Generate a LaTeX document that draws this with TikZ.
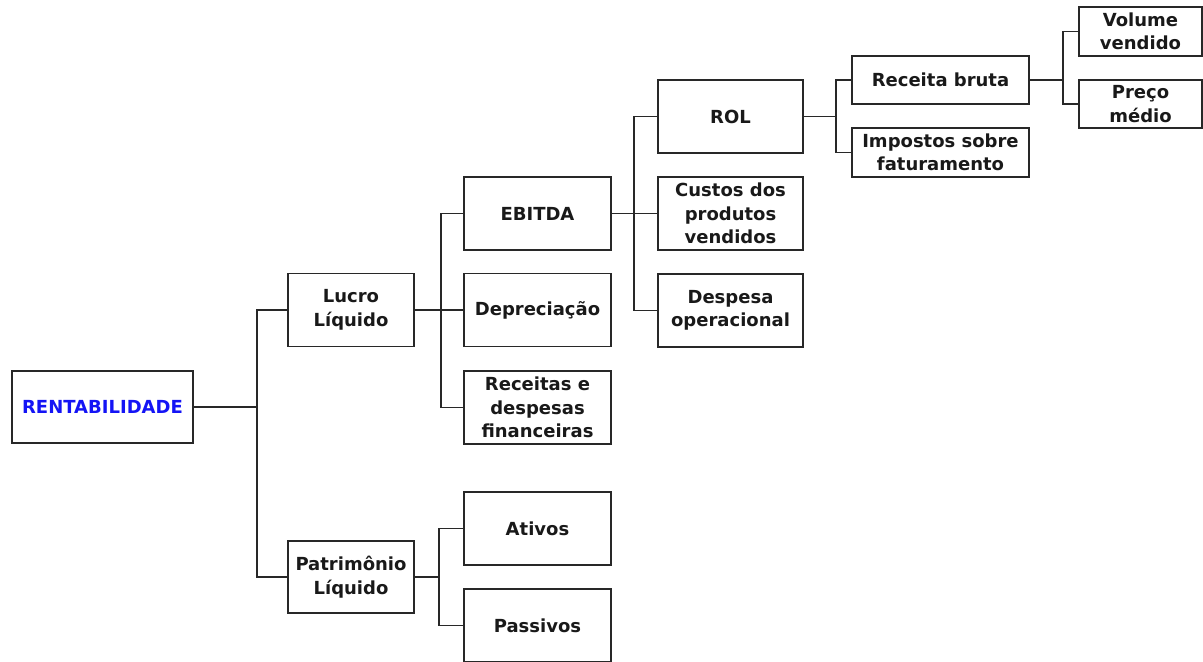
\documentclass[tikz,border=0pt]{standalone}
\usepackage{fontspec}
\setmainfont{DejaVu Sans}
\definecolor{rblue}{RGB}{20,20,245}
\definecolor{ink}{RGB}{40,40,40}
\tikzset{
  box/.style={draw=ink, line width=1.1pt, rectangle, inner sep=0pt, align=center,
    font=\fontsize{13.5}{17.6}\selectfont\bfseries, text=black!90},
  conn/.style={draw=ink, line width=1.1pt}
}
\newcommand{\bx}[6]{\node[box, minimum width=#4*0.75pt, minimum height=#5*0.75pt] (#1) at (#2,#3) {#6};}
\begin{document}
\begin{tikzpicture}[x=0.75pt,y=-0.75pt]
\useasboundingbox (0,0) rectangle (1203,661);
\bx{rent}{102.5}{407}{181}{72}{\textcolor{rblue}{RENTABILIDADE}}
\bx{lucro}{351}{310}{126}{73}{Lucro\\Líquido}
\bx{patr}{351}{577}{126}{72}{Patrimônio\\Líquido}
\bx{ebitda}{537.5}{213.5}{147}{73}{EBITDA}
\bx{depr}{537.5}{310}{147}{73}{Depreciação}
\bx{receitas}{537.5}{407.5}{147}{73}{Receitas e\\despesas\\financeiras}
\bx{ativos}{537.5}{528.5}{147}{73}{Ativos}
\bx{passivos}{537.5}{625.5}{147}{73}{Passivos}
\bx{rol}{730.5}{116.5}{145}{73}{ROL}
\bx{custos}{730.5}{213.5}{145}{73}{Custos dos\\produtos\\vendidos}
\bx{despesa}{730.5}{310.5}{145}{73}{Despesa\\operacional}
\bx{rbruta}{940.5}{80}{177}{48}{Receita bruta}
\bx{impostos}{940.5}{152.5}{177}{49}{Impostos sobre\\faturamento}
\bx{volume}{1140.5}{31.5}{123}{49}{Volume\\vendido}
\bx{preco}{1140.5}{104}{123}{48}{Preço\\médio}
\coordinate (b1) at (257,0);
\coordinate (b2) at (441,0);
\coordinate (b3) at (439,0);
\coordinate (b4) at (634,0);
\coordinate (b5) at (836,0);
\coordinate (b6) at (1063,0);
% rentabilidade
\draw[conn] (rent.east) -- (rent.east -| b1);
\draw[conn] (lucro.west) -- (lucro.west -| b1) -- (patr.west -| b1) -- (patr.west);
% lucro
\draw[conn] (lucro.east) -- (depr.west);
\draw[conn] (ebitda.west) -- (ebitda.west -| b2) -- (receitas.west -| b2) -- (receitas.west);
% patrimonio
\draw[conn] (patr.east) -- (patr.east -| b3);
\draw[conn] (ativos.west) -- (ativos.west -| b3) -- (passivos.west -| b3) -- (passivos.west);
% ebitda
\draw[conn] (ebitda.east) -- (custos.west);
\draw[conn] (rol.west) -- (rol.west -| b4) -- (despesa.west -| b4) -- (despesa.west);
% rol
\draw[conn] (rol.east) -- (rol.east -| b5);
\draw[conn] (rbruta.west) -- (rbruta.west -| b5) -- (impostos.west -| b5) -- (impostos.west);
% receita bruta
\draw[conn] (rbruta.east) -- (rbruta.east -| b6);
\draw[conn] (volume.west) -- (volume.west -| b6) -- (preco.west -| b6) -- (preco.west);
\end{tikzpicture}
\end{document}
